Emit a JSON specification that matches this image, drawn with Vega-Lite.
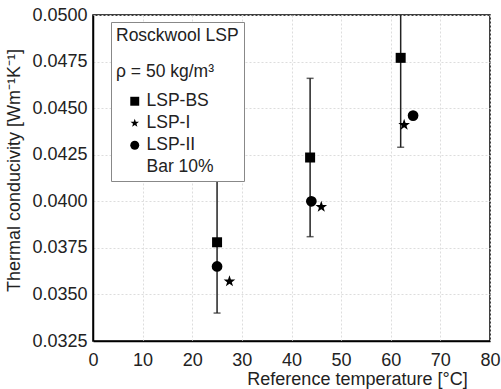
{
  "$schema": "https://vega.github.io/schema/vega-lite/v6.json",
  "width": 397,
  "height": 326,
  "autosize": "none",
  "padding": {"left": 93, "top": 15, "right": 11, "bottom": 48},
  "background": "white",
  "config": {
    "font": "Liberation Sans",
    "view": {"stroke": "black", "strokeWidth": 1.5},
    "axis": {
      "domainColor": "black",
      "domainWidth": 1.5,
      "tickColor": "black",
      "tickWidth": 1.5,
      "labelFont": "Liberation Sans",
      "labelFontSize": 18,
      "labelColor": "#222",
      "titleFont": "Liberation Sans",
      "titleFontSize": 18,
      "titleFontWeight": "normal",
      "titleColor": "#222",
      "gridColor": "#dddddd",
      "gridDash": [2, 2],
      "gridWidth": 1
    }
  },
  "datasets": {
    "points": [
      {"temp": 25, "k": 0.0378, "series": "LSP-BS"},
      {"temp": 43.75, "k": 0.04235, "series": "LSP-BS"},
      {"temp": 62, "k": 0.0477, "series": "LSP-BS"},
      {"temp": 27.5, "k": 0.0357, "series": "LSP-I"},
      {"temp": 46, "k": 0.0397, "series": "LSP-I"},
      {"temp": 62.7, "k": 0.0441, "series": "LSP-I"},
      {"temp": 25, "k": 0.0365, "series": "LSP-II"},
      {"temp": 44, "k": 0.0400, "series": "LSP-II"},
      {"temp": 64.5, "k": 0.0446, "series": "LSP-II"}
    ],
    "bars": [
      {"temp": 25, "lo": 0.0340, "hi": 0.0416},
      {"temp": 43.75, "lo": 0.0381, "hi": 0.0466},
      {"temp": 62, "lo": 0.0429, "hi": 0.0525}
    ]
  },
  "layer": [
    {
      "data": {"name": "bars"},
      "mark": {"type": "rule", "color": "#222", "strokeWidth": 1.5, "clip": true},
      "encoding": {
        "x": {"field": "temp", "type": "quantitative", "scale": {"domain": [0, 80], "nice": false, "zero": false}, "title": "Reference temperature [°C]"},
        "y": {"field": "lo", "type": "quantitative", "scale": {"domain": [0.0325, 0.05], "nice": false, "zero": false}, "title": "Thermal conducivity [Wm⁻¹K⁻¹]"},
        "y2": {"field": "hi"}
      }
    },
    {
      "data": {"name": "bars"},
      "mark": {"type": "tick", "orient": "horizontal", "size": 7, "thickness": 1.5, "color": "#222", "clip": true},
      "encoding": {
        "x": {"field": "temp", "type": "quantitative", "title": "Reference temperature [°C]"},
        "y": {"field": "lo", "type": "quantitative", "title": "Thermal conducivity [Wm⁻¹K⁻¹]"}
      }
    },
    {
      "data": {"name": "bars"},
      "mark": {"type": "tick", "orient": "horizontal", "size": 7, "thickness": 1.5, "color": "#222", "clip": true},
      "encoding": {
        "x": {"field": "temp", "type": "quantitative", "title": "Reference temperature [°C]"},
        "y": {"field": "hi", "type": "quantitative", "title": "Thermal conducivity [Wm⁻¹K⁻¹]"}
      }
    },
    {
      "data": {"name": "points"},
      "transform": [{"filter": "datum.series === 'LSP-BS'"}],
      "mark": {"type": "point", "filled": true, "color": "black", "opacity": 1, "size": 100},
      "encoding": {
        "x": {"field": "temp", "type": "quantitative", "title": "Reference temperature [°C]"},
        "y": {"field": "k", "type": "quantitative", "title": "Thermal conducivity [Wm⁻¹K⁻¹]"},
        "shape": {"field": "series", "type": "nominal"}
      }
    },
    {
      "data": {"name": "points"},
      "transform": [{"filter": "datum.series === 'LSP-I'"}],
      "mark": {"type": "point", "filled": true, "color": "black", "opacity": 1, "size": 150},
      "encoding": {
        "x": {"field": "temp", "type": "quantitative", "title": "Reference temperature [°C]"},
        "y": {"field": "k", "type": "quantitative", "title": "Thermal conducivity [Wm⁻¹K⁻¹]"},
        "shape": {"field": "series", "type": "nominal"}
      }
    },
    {
      "data": {"name": "points"},
      "transform": [{"filter": "datum.series === 'LSP-II'"}],
      "mark": {"type": "point", "filled": true, "color": "black", "opacity": 1, "size": 115},
      "encoding": {
        "x": {
          "field": "temp", "type": "quantitative",
          "title": "Reference temperature [°C]",
          "axis": {
            "values": [0, 5, 10, 15, 20, 25, 30, 35, 40, 45, 50, 55, 60, 65, 70, 75, 80],
            "labelExpr": "datum.value % 10 === 0 ? datum.label : ''",
            "tickSize": 0,
            "gridOpacity": {"condition": {"test": "datum.value % 10 === 0", "value": 1}, "value": 0},
            "labelPadding": 10,
            "titlePadding": 1,
            "titleX": 264,
            "labelFlush": false,
            "encode": {
              "ticks": {"update": {"y2": {"signal": "datum.value % 10 === 0 ? -6 : -3"}}}
            }
          }
        },
        "y": {
          "field": "k", "type": "quantitative",
          "title": "Thermal conducivity [Wm⁻¹K⁻¹]",
          "axis": {
            "values": [0.0325, 0.03375, 0.035, 0.03625, 0.0375, 0.03875, 0.04, 0.04125, 0.0425, 0.04375, 0.045, 0.04625, 0.0475, 0.04875, 0.05],
            "format": ".4f",
            "labelExpr": "round(datum.value * 10000) % 25 === 0 ? datum.label : ''",
            "tickSize": 0,
            "gridOpacity": {"condition": {"test": "round(datum.value * 10000) % 25 === 0", "value": 1}, "value": 0},
            "labelPadding": 6,
            "titlePadding": 8,
            "titleY": 155,
            "labelFlush": false,
            "encode": {
              "ticks": {"update": {"x2": {"signal": "round(datum.value * 10000) % 25 === 0 ? 6 : 3"}}}
            }
          }
        },
        "shape": {
          "field": "series", "type": "nominal",
          "scale": {
            "domain": ["LSP-BS", "LSP-I", "LSP-II", "Bar 10%"],
            "range": ["square", "M0,-1L0.235,-0.324L0.951,-0.309L0.38,0.124L0.588,0.809L0,0.4L-0.588,0.809L-0.38,0.124L-0.951,-0.309L-0.235,-0.324Z", "circle", "M0,0L0,0Z"]
          },
          "legend": {
            "orient": "none",
            "legendX": 18,
            "legendY": 7,
            "title": ["Rosckwool LSP", "ρ = 50 kg/m³"],
            "titleFont": "Liberation Sans",
            "titleFontSize": 17.5,
            "titleFontWeight": "normal",
            "titleColor": "#222",
            "titleLineHeight": 36,
            "titlePadding": 12,
            "labelFont": "Liberation Sans",
            "labelFontSize": 17.5,
            "labelColor": "#222",
            "labelOffset": 3,
            "symbolFillColor": "black",
            "symbolStrokeColor": "black",
            "symbolSize": 80,
            "symbolOffset": 10,
            "rowPadding": 3,
            "fillColor": "white",
            "strokeColor": "#888",
            "padding": 5,
            "encode": {
              "symbols": {"update": {"opacity": {"signal": "datum.value === 'Bar 10%' ? 0 : 1"}, "fillOpacity": {"signal": "datum.value === 'Bar 10%' ? 0 : 1"}, "strokeOpacity": {"signal": "datum.value === 'Bar 10%' ? 0 : 1"}}}
            }
          }
        }
      }
    }
  ]
}
